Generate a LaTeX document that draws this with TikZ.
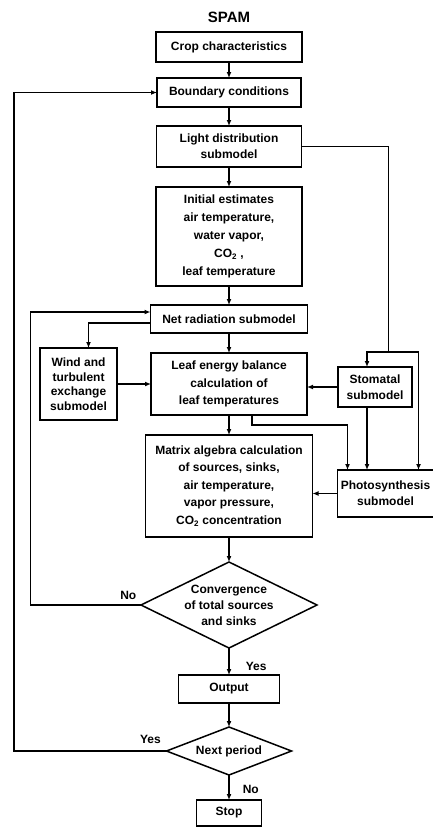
\documentclass[tikz,border=0pt]{standalone}
\usepackage{fontspec}
\setmainfont{Liberation Sans}
\usetikzlibrary{positioning,shapes.geometric,arrows.meta,calc}

\begin{document}
\begin{tikzpicture}[
    x=1pt, y=1pt,
    node distance=20pt,
    block/.style={rectangle, draw, line width=1.5pt, fill=white, align=center, inner sep=2pt, outer sep=0pt, font=\bfseries\fontsize{12}{17.5}\selectfont},
    decision/.style={diamond, draw, line width=1.5pt, fill=white, align=center, inner sep=0pt, outer sep=0pt, font=\bfseries\fontsize{12}{16}\selectfont},
    arrow/.style={-{Latex[length=6pt, width=5pt]}, line width=1.5pt},
    answer/.style={font=\bfseries\fontsize{12}{14}\selectfont, inner sep=0pt}
]

\useasboundingbox (0,0) rectangle (432,-827);

% Main column
\node[block, minimum width=146pt, minimum height=30pt] (crop) at (229,-47) {Crop characteristics};
\node[font=\bfseries\fontsize{15}{15}\selectfont, inner sep=0pt, above=9pt of crop] (title) {SPAM};
\node[block, below=16pt of crop, minimum width=144pt, minimum height=29pt] (boundary) {Boundary conditions};
\node[block, below=19pt of boundary, minimum width=145pt, minimum height=41pt, font=\bfseries\fontsize{12}{16}\selectfont] (light) {Light distribution\\submodel};
\node[block, below=20pt of light, minimum width=146pt, minimum height=99pt, font=\bfseries\fontsize{12}{18}\selectfont] (initial) {Initial estimates\\air temperature,\\water vapor,\\CO\textsubscript{2} ,\\leaf temperature};
\node[block, below=19pt of initial, minimum width=157pt, minimum height=28pt] (net) {Net radiation submodel};
\node[block, below=20pt of net, minimum width=156pt, minimum height=62pt] (leaf) {Leaf energy balance\\calculation of\\leaf temperatures};
\node[block, below=20pt of leaf, minimum width=167pt, minimum height=102pt] (matrix) {Matrix algebra calculation\\of sources, sinks,\\air temperature,\\vapor pressure,\\CO\textsubscript{2} concentration};
\node[decision, below=25pt of matrix, aspect=2.05, minimum width=176pt, minimum height=86pt] (conv) {Convergence\\of total sources\\and sinks};
\node[block, below=27pt of conv, minimum width=101pt, minimum height=28pt] (output) {Output};
\node[decision, below=24pt of output, aspect=2.6, minimum width=125pt, minimum height=48pt] (next) {Next period};
\node[block, below=25pt of next, minimum width=65pt, minimum height=26pt] (stop) {Stop};

% Side blocks
\node[block, left=34pt of leaf, minimum width=77pt, minimum height=72pt, font=\bfseries\fontsize{12}{14.5}\selectfont] (wind) {Wind and\\turbulent\\exchange\\submodel};
\node[block, right=31pt of leaf, yshift=-3pt, minimum width=74pt, minimum height=40pt, font=\bfseries\fontsize{12}{16}\selectfont] (stomatal) {Stomatal\\submodel};
\node[block, right=25pt of matrix, yshift=-7.5pt, minimum width=96pt, minimum height=47pt, font=\bfseries\fontsize{12}{16}\selectfont] (photo) {Photosynthesis\\submodel};

% Turning points
\coordinate[right=87pt of light.east] (lightturn);
\coordinate (lightsplit) at ([yshift=15pt]stomatal.north -| lightturn);
\coordinate[left=120pt of net.west, yshift=7pt] (innerloop);
\coordinate[left=143pt of boundary.west] (outerloop);

% Arrows down the column
\draw[arrow] (crop) -- (boundary);
\draw[arrow] (boundary) -- (light);
\draw[arrow] (light) -- (initial);
\draw[arrow] (initial) -- (net);
\draw[arrow] (net) -- (leaf);
\draw[arrow] (leaf) -- (matrix);
\draw[arrow] (matrix) -- (conv);
\draw[arrow] (conv) -- node[answer, right=16pt, yshift=-5pt] (convyes) {Yes} (output);
\draw[arrow] (output) -- (next);
\draw[arrow] (next) -- node[answer, right=13pt, yshift=-2pt] (nextno) {No} (stop);

% Submodel links
\draw[arrow] ([yshift=-4pt]net.west) -| ([xshift=10pt]wind.north);
\draw[arrow] (wind.east) -- (wind.east -| leaf.west);
\draw[arrow] (stomatal.west) -- (stomatal.west -| leaf.east);
\draw[line width=1.5pt] (light.east) -- (lightturn) -- (lightsplit);
\draw[arrow] (lightsplit) -| ([xshift=-8pt]stomatal.north);
\draw[arrow] (lightsplit) -| ([xshift=33pt]photo.north);
\draw[arrow] ([xshift=-8pt]stomatal.south) -- ([xshift=-8pt]stomatal.south |- photo.north);
\draw[arrow] ([xshift=23pt]leaf.south) -- ++(0,-10pt) -| ([xshift=-38pt]photo.north);
\draw[arrow] (photo.west) -- (photo.west -| matrix.east);

% Loops back
\draw[arrow] (conv.west) node[answer, above left=5pt and 4pt] (convno) {No} -| (innerloop) -- ([yshift=7pt]net.west);
\draw[arrow] (next.west) node[answer, above left=7pt and 5pt] (nextyes) {Yes} -| (outerloop) -- (boundary.west);

\end{tikzpicture}
\end{document}
